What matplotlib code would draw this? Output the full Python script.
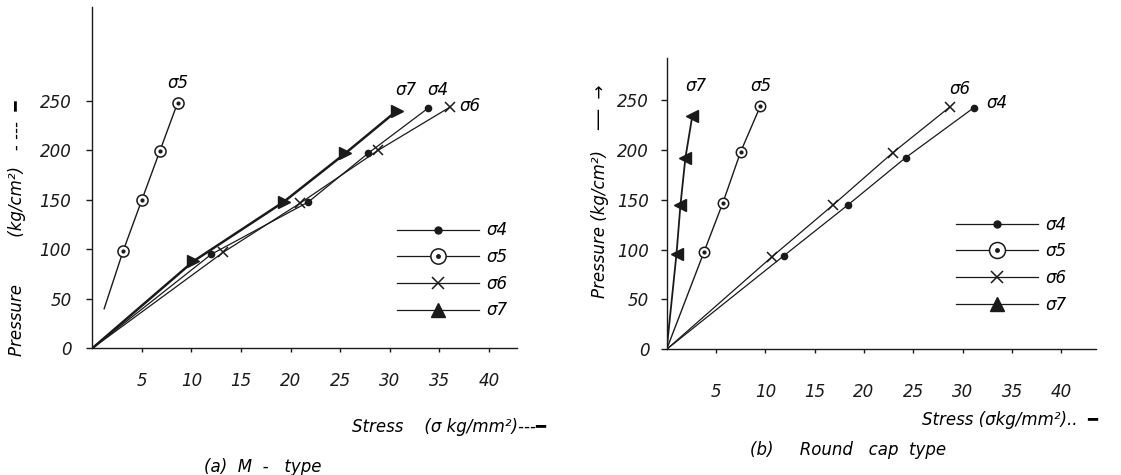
import matplotlib
matplotlib.use('Agg')
import matplotlib.pyplot as plt
from matplotlib.lines import Line2D
from matplotlib.legend_handler import HandlerTuple

plt.rcParams['font.family'] = ['DejaVu Sans']
plt.rcParams['font.style'] = 'italic'
plt.rcParams['font.size'] = 12

INK = '#1a1a1a'

# (a) M - type, first point of each series is where the line starts (no marker)
m_s4_x = [0, 12.0, 21.8, 27.8, 33.9]
m_s4_y = [0, 95, 148, 197, 243]
m_s5_x = [1.2, 3.1, 5.0, 6.8, 8.6]
m_s5_y = [40, 98, 150, 199, 248]
m_s6_x = [0, 13.2, 21.0, 28.8, 36.1]
m_s6_y = [0, 97, 147, 200, 244]
m_s7_x = [0, 10.2, 19.3, 25.5, 30.7]
m_s7_y = [0, 88, 148, 197, 240]

# (b) Round cap type
r_s4_x = [0, 11.9, 18.4, 24.2, 31.1]
r_s4_y = [0, 94, 145, 192, 242]
r_s5_x = [0, 3.8, 5.7, 7.5, 9.5]
r_s5_y = [0, 98, 147, 198, 244]
r_s6_x = [0, 10.7, 16.9, 22.9, 28.7]
r_s6_y = [0, 93, 145, 197, 243]
r_s7_x = [0, 1.0, 1.4, 1.9, 2.6]
r_s7_y = [0, 96, 145, 192, 234]

x_ticks = [5, 10, 15, 20, 25, 30, 35, 40]
y_ticks = [0, 50, 100, 150, 200, 250]
names = ['\u03c34', '\u03c35', '\u03c36', '\u03c37']


def style_axes(ax, xmax, ymax, xpad, ypad):
    ax.set_xlim(0, xmax)
    ax.set_ylim(0, ymax)
    for s in ['top', 'right']:
        ax.spines[s].set_visible(False)
    for s in ['left', 'bottom']:
        ax.spines[s].set_linewidth(1.0)
        ax.spines[s].set_color(INK)
    ax.set_xticks(x_ticks)
    ax.set_yticks(y_ticks)
    ax.tick_params(axis='x', direction='out', length=3, width=1, pad=xpad, colors=INK, labelsize=12)
    ax.tick_params(axis='y', direction='out', length=4, width=1, pad=ypad, colors=INK, labelsize=12)


def add_legend(ax, x, y, circle_size):
    h4 = Line2D([], [], color=INK, lw=0.9, marker='o', ms=5, mfc=INK, mec=INK)
    h5a = Line2D([], [], color=INK, lw=0.9, marker='o', ms=circle_size, mfc='white', mec=INK, mew=1.1)
    h5b = Line2D([], [], ls='none', marker='o', ms=2.5, mfc=INK, mec=INK)
    h6 = Line2D([], [], color=INK, lw=0.9, marker='x', ms=8, mec=INK, mew=1.1)
    h7 = Line2D([], [], color=INK, lw=0.9, marker='^', ms=10, mfc=INK, mec=INK)
    ax.legend([h4, (h5a, h5b), h6, h7], names, loc='upper left', bbox_to_anchor=(x, y),
              frameon=False, borderpad=0, borderaxespad=0, handlelength=4.9,
              handletextpad=0.45, labelspacing=0.52, numpoints=1, fontsize=12,
              handler_map={tuple: HandlerTuple(ndivide=1, pad=0)})


fig = plt.figure(figsize=(11.21, 4.75), dpi=100)
ax1 = fig.add_axes([0.0823, 0.2667, 0.3786, 0.7185])
ax2 = fig.add_axes([0.5947, 0.2646, 0.3830, 0.6133])

# ---- (a) M - type ----
style_axes(ax1, 42.8, 345, 14, 11)
ax1.plot(m_s4_x, m_s4_y, color=INK, lw=0.9, marker='o', ms=4.5, markevery=slice(1, None))
ax1.plot(m_s5_x, m_s5_y, color=INK, lw=1.0, marker='o', ms=8, mfc='white', mec=INK, mew=1.1,
         markevery=slice(1, None))
ax1.plot(m_s5_x[1:], m_s5_y[1:], ls='none', marker='o', ms=2, color=INK)
ax1.plot(m_s6_x, m_s6_y, color=INK, lw=0.9, marker='x', ms=7, mew=1.1, markevery=slice(1, None))
ax1.plot(m_s7_x, m_s7_y, color=INK, lw=1.8, marker='>', ms=9, markevery=slice(1, None))

ax1.annotate(names[1], (m_s5_x[-1], m_s5_y[-1]), xytext=(1, 20), textcoords='offset pixels',
             ha='center', va='center', fontsize=12)
ax1.annotate(names[3], (m_s7_x[-1], m_s7_y[-1]), xytext=(9, 21), textcoords='offset pixels',
             ha='center', va='center', fontsize=12)
ax1.annotate(names[0], (m_s4_x[-1], m_s4_y[-1]), xytext=(10, 18), textcoords='offset pixels',
             ha='center', va='center', fontsize=12)
ax1.annotate(names[2], (m_s6_x[-1], m_s6_y[-1]), xytext=(20, 1), textcoords='offset pixels',
             ha='center', va='center', fontsize=12)

add_legend(ax1, 0.718, 0.372, 11)
ax1.text(-0.177, 0.351, 'Pressure         (kg/cm\u00b2)   - ---  \u2501', transform=ax1.transAxes,
         rotation=90, ha='center', va='center', fontsize=12)
ax1.text(0.840, -0.232, 'Stress    (\u03c3 kg/mm\u00b2)---\u2501', transform=ax1.transAxes,
         ha='center', va='center', fontsize=12)
fig.text(0.234, 0.017, '(a)  M  -   type', ha='center', va='center', fontsize=12)

# ---- (b) Round cap type ----
style_axes(ax2, 43.5, 292, 21, 8.5)
ax2.plot(r_s4_x, r_s4_y, color=INK, lw=0.9, marker='o', ms=4.5, markevery=slice(1, None))
ax2.plot(r_s5_x, r_s5_y, color=INK, lw=1.0, marker='o', ms=7.5, mfc='white', mec=INK, mew=1.1,
         markevery=slice(1, None))
ax2.plot(r_s5_x[1:], r_s5_y[1:], ls='none', marker='o', ms=2, color=INK)
ax2.plot(r_s6_x, r_s6_y, color=INK, lw=0.9, marker='x', ms=7, mew=1.1, markevery=slice(1, None))
ax2.plot(r_s7_x, r_s7_y, color=INK, lw=1.3, marker='<', ms=8.5, markevery=slice(1, None))

ax2.annotate(names[3], (r_s7_x[-1], r_s7_y[-1]), xytext=(4, 30), textcoords='offset pixels',
             ha='center', va='center', fontsize=12)
ax2.annotate(names[1], (r_s5_x[-1], r_s5_y[-1]), xytext=(1, 20), textcoords='offset pixels',
             ha='center', va='center', fontsize=12)
ax2.annotate(names[2], (r_s6_x[-1], r_s6_y[-1]), xytext=(10, 18), textcoords='offset pixels',
             ha='center', va='center', fontsize=12)
ax2.annotate(names[0], (r_s4_x[-1], r_s4_y[-1]), xytext=(23, 5), textcoords='offset pixels',
             ha='center', va='center', fontsize=12)

add_legend(ax2, 0.674, 0.459, 11.5)
ax2.text(-0.155, 0.542, 'Pressure (kg/cm\u00b2)    \u2500\u2500  \u2192', transform=ax2.transAxes,
         rotation=90, ha='center', va='center', fontsize=12)
ax2.text(0.800, -0.244, 'Stress (\u03c3kg/mm\u00b2)..  \u2501', transform=ax2.transAxes,
         ha='center', va='center', fontsize=12)
fig.text(0.7565, 0.053, '(b)     Round   cap  type', ha='center', va='center', fontsize=12)

plt.savefig('out.png', dpi=100)
